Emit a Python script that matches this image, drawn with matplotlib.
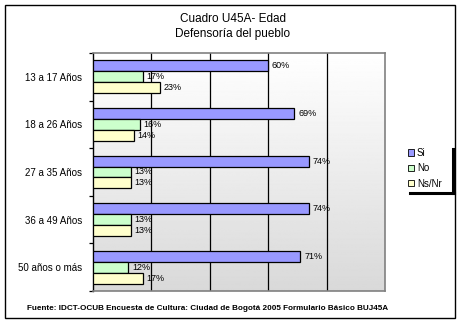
import numpy as np
import matplotlib
matplotlib.use("Agg")
import matplotlib.pyplot as plt
from matplotlib.patches import Rectangle, Patch
from matplotlib.lines import Line2D

plt.rcParams["font.family"] = ["Liberation Sans", "DejaVu Sans"]

categories = ["13 a 17 Años", "18 a 26 Años", "27 a 35 Años", "36 a 49 Años", "50 años o más"]
series = ["Si", "No", "Ns/Nr"]
si = [60, 69, 74, 74, 71]
no = [17, 16, 13, 13, 12]
nsnr = [23, 14, 13, 13, 17]
colors = ["#9999FF", "#CCFFCC", "#FFFFCC"]

fig = plt.figure(figsize=(4.61, 3.27), dpi=100)
ax = fig.add_axes([93 / 461, 1 - 291 / 327, 292 / 461, 238 / 327])

# gradient background
grad = np.linspace(1.0, 0.85, 256).reshape(-1, 1)
ax.imshow(grad, cmap="gray", vmin=0, vmax=1, aspect="auto",
          extent=[0, 1, 0, 1], transform=ax.transAxes, zorder=0)

y = np.arange(len(categories))
h = 0.23
for i, (vals, col) in enumerate(zip([si, no, nsnr], colors)):
    pos = y - h + i * h
    bars = ax.barh(pos, vals, height=h, color=col, edgecolor="black",
                   linewidth=0.9, zorder=3)
    for b, v in zip(bars, vals):
        ax.text(v + 1.3, b.get_y() + h / 2, f"{v}%", va="center", ha="left",
                fontsize=6.5, zorder=4)

ax.set_xlim(0, 100)
ax.set_ylim(len(categories) - 0.5, -0.5)
ax.set_xticks([20, 40, 60, 80])
ax.xaxis.grid(True, color="black", linewidth=0.9)
ax.set_axisbelow(True)
ax.tick_params(axis="x", length=0, labelbottom=False)

ax.set_yticks(np.arange(len(categories) + 1) - 0.5)
ax.set_yticklabels([])
ax.tick_params(axis="y", which="major", length=3, width=0.9, color="black")
ax.set_yticks(y, minor=True)
ax.set_yticklabels(categories, minor=True, fontsize=7)
ax.tick_params(axis="y", which="minor", length=0, pad=8)

for s in ["top", "right", "bottom"]:
    ax.spines[s].set_color("#808080")
    ax.spines[s].set_linewidth(1.2)
ax.spines["left"].set_color("black")
ax.spines["left"].set_linewidth(1.0)

fig.text(0.505, 1 - 19 / 327, "Cuadro U45A- Edad", ha="center", va="center", fontsize=8.5)
fig.text(0.505, 1 - 34 / 327, "Defensoría del pueblo", ha="center", va="center", fontsize=8.5)
fig.text(27 / 461, 1 - 308 / 327,
         "Fuente: IDCT-OCUB Encuesta de Cultura: Ciudad de Bogotá 2005 Formulario Básico BUJ45A",
         ha="left", va="center", fontsize=5.9, fontweight="bold")

# outer frame
fig.patches.append(Rectangle((5 / 461, 1 - 318 / 327), 450 / 461, 313 / 327,
                             transform=fig.transFigure, fill=False,
                             edgecolor="black", linewidth=1.0))

# legend
handles = [Patch(facecolor=c, edgecolor="black", linewidth=0.6) for c in colors]
leg = fig.legend(handles, series, loc="upper left",
                 bbox_to_anchor=(408 / 461, 1 - 148 / 327), fontsize=7,
                 frameon=False, handlelength=0.6, handleheight=0.6,
                 handletextpad=0.3, labelspacing=0.55, borderpad=0,
                 borderaxespad=0)
# legend shadow (right and bottom)
fig.lines.append(Line2D([452.5 / 461, 452.5 / 461], [1 - 149 / 327, 1 - 193 / 327],
                        transform=fig.transFigure, color="black", linewidth=2.2))
fig.lines.append(Line2D([410 / 461, 454 / 461], [1 - 192.5 / 327, 1 - 192.5 / 327],
                        transform=fig.transFigure, color="black", linewidth=2.2))

fig.savefig("out.png", dpi=100)
